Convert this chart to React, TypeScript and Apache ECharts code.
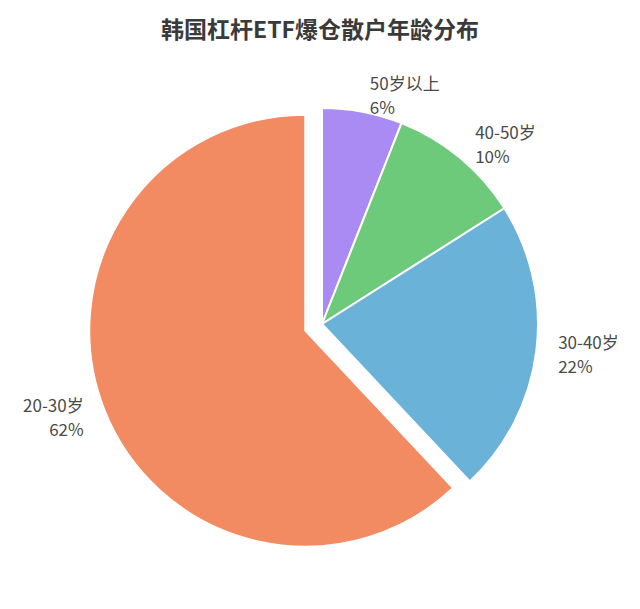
import React, { useEffect, useRef } from "react";
import * as echarts from "echarts";

const TITLE = "韩国杠杆ETF爆仓散户年龄分布";
const categories = ["50岁以上", "40-50岁", "30-40岁", "20-30岁"];
const values = [6, 10, 22, 62];
const colors = ["#A98BF3", "#6DCA7A", "#6BB2D8", "#F28A62"];
const selectedIdx = 3;

export default function App() {
  const ref = useRef<HTMLDivElement>(null);
  useEffect(() => {
    if (!ref.current) return;
    const chart = echarts.init(ref.current, undefined, { renderer: "svg" });
    chart.setOption({
      animation: false,
      backgroundColor: "#ffffff",
      title: {
        text: TITLE,
        left: "center",
        top: 11,
        textStyle: {
          fontFamily: "Noto Sans CJK SC",
          fontSize: 23,
          fontWeight: "bold",
          color: "#3a3a3a",
        },
      },
      series: [
        {
          type: "pie",
          center: [322, 324],
          radius: 216,
          startAngle: 90,
          clockwise: true,
          selectedMode: "single",
          selectedOffset: 18,
          avoidLabelOverlap: false,
          itemStyle: { borderColor: "#ffffff", borderWidth: 2 },
          label: {
            show: true,
            position: "outside",
            formatter: "{b}\n{c}%",
            fontFamily: "Noto Sans CJK SC",
            fontSize: 17,
            lineHeight: 24,
            color: "#4a4a4a",
            distanceToLabelLine: 4,
          },
          labelLine: { show: false, length: 18, length2: 0 },
          emphasis: { disabled: true },
          data: categories.map((name, i) => ({
            name,
            value: values[i],
            selected: i === selectedIdx,
            itemStyle: { color: colors[i] },
          })),
        },
      ],
    });
    return () => chart.dispose();
  }, []);
  return (
    <div
      ref={ref}
      style={{ position: "absolute", left: 0, top: 0, width: 640, height: 609 }}
    />
  );
}
